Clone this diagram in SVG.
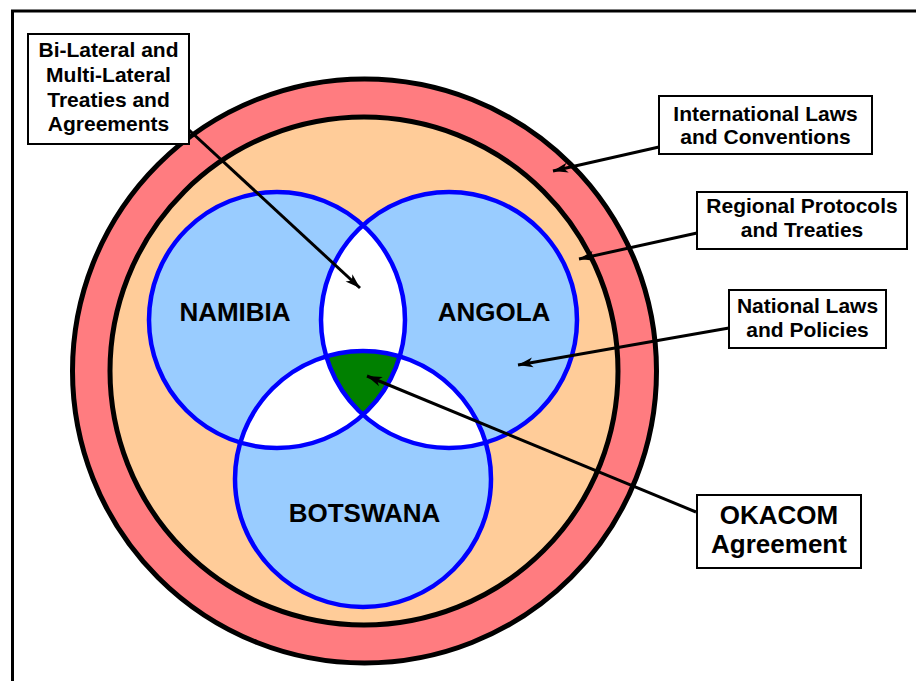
<svg xmlns="http://www.w3.org/2000/svg" width="916" height="681" viewBox="0 0 916 681">
<style>
.lbl{font-family:"Liberation Sans",Arial,sans-serif;font-weight:bold;fill:#000;text-anchor:middle}
.s21{font-size:21px}
.s26{font-size:26px}
.box{fill:#fff;stroke:#000;stroke-width:2}
.conn{stroke:#000;stroke-width:3;fill:none;marker-end:url(#ah)}
.ven{fill:none;stroke:#0000FF;stroke-width:4.5}
</style>
<defs>
<marker id="ah" markerUnits="userSpaceOnUse" viewBox="-16 -6 18 12" refX="0" refY="0" markerWidth="18" markerHeight="12" orient="auto">
<path d="M0,0 L-15,-5 L-11,0 L-15,5 Z" fill="#000"/>
</marker>
<clipPath id="cN"><circle cx="277" cy="320" r="128"/></clipPath>
<clipPath id="cA"><circle cx="449" cy="320" r="128"/></clipPath>
<clipPath id="cB"><circle cx="363" cy="479" r="128"/></clipPath>
</defs>
<rect width="916" height="681" fill="#fff"/>
<path d="M12.5,690 V11 H925" fill="none" stroke="#000" stroke-width="3"/>
<g id="international">
<circle cx="364.5" cy="371" r="292" fill="#FF7C80" stroke="#000" stroke-width="5"/>
</g>
<g id="regional">
<circle cx="364" cy="371" r="254" fill="#FFCC99" stroke="#000" stroke-width="5"/>
</g>
<g id="venn">
<circle cx="277" cy="320" r="128" fill="#99CCFF"/>
<circle cx="449" cy="320" r="128" fill="#99CCFF"/>
<circle cx="363" cy="479" r="128" fill="#99CCFF"/>
<g clip-path="url(#cN)"><circle cx="449" cy="320" r="128" fill="#fff"/><circle cx="363" cy="479" r="128" fill="#fff"/></g>
<g clip-path="url(#cA)"><circle cx="363" cy="479" r="128" fill="#fff"/></g>
<g clip-path="url(#cN)"><g clip-path="url(#cA)"><circle cx="363" cy="479" r="128" fill="#008000"/></g></g>
</g>
<g id="namibia">
<circle class="ven" cx="277" cy="320" r="128"/>
<text class="lbl s26" x="235" y="321">NAMIBIA</text>
</g>
<g id="angola">
<circle class="ven" cx="449" cy="320" r="128"/>
<text class="lbl s26" x="494" y="321">ANGOLA</text>
</g>
<g id="botswana">
<circle class="ven" cx="363" cy="479" r="128"/>
<text class="lbl s26" x="364.5" y="522">BOTSWANA</text>
</g>
<g id="connectors">
<line class="conn" x1="189" y1="130" x2="360" y2="288"/>
<line class="conn" x1="659" y1="147" x2="553" y2="171"/>
<line class="conn" x1="697" y1="233" x2="579" y2="259"/>
<line class="conn" x1="729" y1="328" x2="518" y2="365"/>
<line class="conn" x1="696" y1="512" x2="367" y2="376"/>
</g>
<g id="bilateral">
<rect class="box" x="28" y="34" width="161" height="110"/>
<text class="lbl s21" x="108.5" y="57">Bi-Lateral and</text>
<text class="lbl s21" x="108.5" y="82">Multi-Lateral</text>
<text class="lbl s21" x="108.5" y="107">Treaties and</text>
<text class="lbl s21" x="108.5" y="131">Agreements</text>
</g>
<g id="intl-label">
<rect class="box" x="659" y="96" width="213" height="58"/>
<text class="lbl s21" x="765.5" y="121">International Laws</text>
<text class="lbl s21" x="765.5" y="144">and Conventions</text>
</g>
<g id="regional-label">
<rect class="box" x="697" y="192" width="210" height="57"/>
<text class="lbl s21" x="802" y="213">Regional Protocols</text>
<text class="lbl s21" x="802" y="237">and Treaties</text>
</g>
<g id="national-label">
<rect class="box" x="729" y="290" width="157" height="58"/>
<text class="lbl s21" x="807.5" y="313">National Laws</text>
<text class="lbl s21" x="807.5" y="337">and Policies</text>
</g>
<g id="okacom">
<rect class="box" x="697" y="495" width="164" height="73" stroke-width="3"/>
<text class="lbl s26" x="779" y="524">OKACOM</text>
<text class="lbl s26" x="779" y="553">Agreement</text>
</g>
</svg>
